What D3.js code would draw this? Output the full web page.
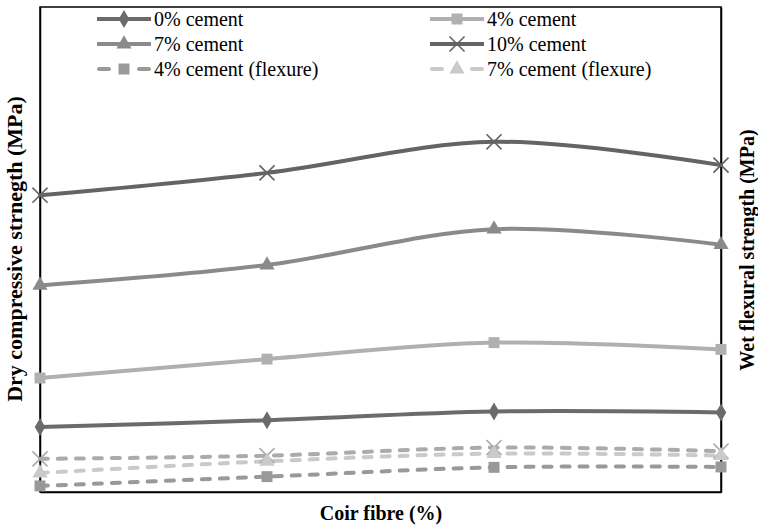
<!DOCTYPE html>
<html>
<head>
<meta charset="utf-8">
<script src="https://cdn.jsdelivr.net/npm/d3@7"></script>
<style>
  html, body { margin: 0; padding: 0; background: #fff; }
  svg { display: block; }
  text { font-family: "Liberation Serif", "Times New Roman", serif; fill: #000; }
</style>
</head>
<body>
<svg id="chart" width="758" height="527"></svg>
<script>
// Coir fibre content levels (x categories)
const fibre = ["0", "0.25", "0.5", "0.75"];

// Dry compressive strength (MPa), left axis
const cement0  = [0.67, 0.74, 0.83, 0.82];
const cement4  = [1.175, 1.37, 1.54, 1.47];
const cement7  = [2.13, 2.34, 2.71, 2.55];
const cement10 = [3.06, 3.29, 3.61, 3.37];

// Wet flexural strength (MPa), right axis
const flex4  = [0.415, 0.438, 0.461, 0.462];
const flex7  = [0.447, 0.476, 0.495, 0.490];
const flex10 = [0.482, 0.490, 0.510, 0.501];

const leftDomain = [0, 5];
const rightDomain = [0.4, 1.6];

const svg = d3.select("#chart");
const m = { left: 40, right: 721, top: 7, bottom: 492 };

const x = d3.scalePoint().domain(fibre).range([m.left, m.right]);
const yL = d3.scaleLinear().domain(leftDomain).range([m.bottom, m.top]);
const yR = d3.scaleLinear().domain(rightDomain).range([m.bottom, m.top]);

const series = [
  { name: "0% cement", values: cement0, y: yL, color: "#6b6b6b", marker: "diamond", dash: null },
  { name: "4% cement", values: cement4, y: yL, color: "#b0b0b0", marker: "square", dash: null },
  { name: "7% cement", values: cement7, y: yL, color: "#8a8a8a", marker: "triangle", dash: null },
  { name: "10% cement", values: cement10, y: yL, color: "#646464", marker: "cross", dash: null },
  { name: "10% cement (flexure)", values: flex10, y: yR, color: "#ababab", marker: "cross", dash: "8,10", legend: false },
  { name: "7% cement (flexure)", values: flex7, y: yR, color: "#cacaca", marker: "triangle", dash: "8,10" },
  { name: "4% cement (flexure)", values: flex4, y: yR, color: "#999999", marker: "square", dash: "8,10" }
];

const symbolFor = {
  diamond: d3.symbol().type(d3.symbolDiamond).size(95),
  square: d3.symbol().type(d3.symbolSquare).size(120),
  triangle: d3.symbol().type(d3.symbolTriangle).size(100),
  cross: d3.symbol().type(d3.symbolX).size(150)
};

function drawMarker(g, s, cx, cy) {
  const path = g.append("path")
    .attr("transform", `translate(${cx},${cy})`)
    .attr("d", symbolFor[s.marker]());
  if (s.marker === "cross") {
    path.attr("fill", "none").attr("stroke", s.color).attr("stroke-width", 1.6);
  } else {
    path.attr("fill", s.color);
  }
}

// Plot frame
svg.append("rect")
  .attr("x", m.left).attr("y", m.top)
  .attr("width", m.right - m.left).attr("height", m.bottom - m.top)
  .attr("fill", "none").attr("stroke", "#000").attr("stroke-width", 1.5);

// Axes without ticks (frame edges)
svg.append("g").attr("transform", `translate(0,${m.bottom})`)
  .call(d3.axisBottom(x).tickSize(0).tickFormat(""))
  .call(g => g.select(".domain").attr("stroke-width", 1.5));
svg.append("g").attr("transform", `translate(${m.left},0)`)
  .call(d3.axisLeft(yL).tickSize(0).tickFormat("").tickValues([]))
  .call(g => g.select(".domain").attr("stroke-width", 1.5));
svg.append("g").attr("transform", `translate(${m.right},0)`)
  .call(d3.axisRight(yR).tickSize(0).tickFormat("").tickValues([]))
  .call(g => g.select(".domain").attr("stroke-width", 1.5));

// Smoothed series lines
const plot = svg.append("g");
series.forEach(s => {
  const line = d3.line()
    .x((d, i) => x(fibre[i]))
    .y(d => s.y(d))
    .curve(d3.curveCatmullRom.alpha(0));
  plot.append("path")
    .datum(s.values)
    .attr("d", line)
    .attr("fill", "none")
    .attr("stroke", s.color)
    .attr("stroke-width", 4)
    .attr("stroke-linecap", "round")
    .attr("stroke-dasharray", s.dash);
});
series.forEach(s => {
  const g = plot.append("g");
  s.values.forEach((v, i) => drawMarker(g, s, x(fibre[i]), s.y(v)));
});

// Legend
const legendItems = [
  { s: series[0], col: 0, row: 0 },
  { s: series[1], col: 1, row: 0 },
  { s: series[2], col: 0, row: 1 },
  { s: series[3], col: 1, row: 1 },
  { s: series[6], col: 0, row: 2 },
  { s: series[5], col: 1, row: 2 }
];
const colX = [97, 430];
const rowY = [19, 44, 69];
const legend = svg.append("g");
legendItems.forEach(it => {
  const g = legend.append("g").attr("transform", `translate(${colX[it.col]},${rowY[it.row]})`);
  if (it.s.dash) {
    g.append("path").attr("d", "M2,0H12").attr("stroke", it.s.color).attr("stroke-width", 4).attr("stroke-linecap", "round");
    g.append("path").attr("d", "M42,0H52").attr("stroke", it.s.color).attr("stroke-width", 4).attr("stroke-linecap", "round");
  } else {
    g.append("path").attr("d", "M0,0H54").attr("stroke", it.s.color).attr("stroke-width", 4);
  }
  drawMarker(g, it.s, 27, 0);
  g.append("text")
    .attr("x", 57).attr("y", 0).attr("dy", "0.33em")
    .style("font-size", "20px")
    .text(it.s.name);
});

// Axis titles
svg.append("text")
  .attr("x", 381).attr("y", 520)
  .attr("text-anchor", "middle")
  .style("font-size", "20px").style("font-weight", "bold")
  .text("Coir fibre (%)");

svg.append("text")
  .attr("transform", "translate(22,249) rotate(-90)")
  .attr("text-anchor", "middle")
  .style("font-size", "22px").style("font-weight", "bold")
  .text("Dry compressive strnegth (MPa)");

svg.append("text")
  .attr("transform", "translate(754,250) rotate(-90)")
  .attr("text-anchor", "middle")
  .style("font-size", "20px").style("font-weight", "bold")
  .text("Wet flexural strength (MPa)");
</script>
</body>
</html>
